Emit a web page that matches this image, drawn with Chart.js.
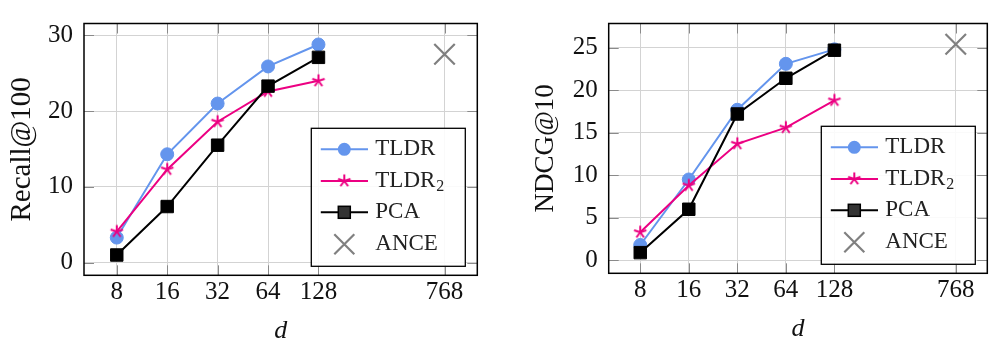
<!DOCTYPE html>
<html>
<head>
<meta charset="utf-8">
<script src="https://cdn.jsdelivr.net/npm/chart.js@4.4.0/dist/chart.umd.min.js"></script>
<style>
  html, body { margin: 0; padding: 0; background: #fff; }
  #wrap { position: relative; width: 1004px; height: 345px; }
  #left { position: absolute; left: 0; top: 0; }
  #right { position: absolute; left: 500px; top: 0; }
</style>
</head>
<body>
<div id="wrap">
  <canvas id="left" width="500" height="345"></canvas>
  <canvas id="right" width="504" height="345"></canvas>
</div>
<script>
// dimensions (x axis), placed on a log2 scale; ANCE sits apart at the right
const dims = ['8', '16', '32', '64', '128'];
const dimX = [3, 4, 5, 6, 7];
const anceDim = '768';
const anceX = 9.5;

// Recall@100
const recallTLDR = [3.3, 14.3, 21.0, 25.9, 28.8];
const recallTLDR2 = [4.1, 12.3, 18.6, 22.6, 24.0];
const recallPCA = [1.0, 7.4, 15.5, 23.3, 27.1];
const recallANCE = 27.5;
const recallTicks = [0, 10, 20, 30];

// NDCG@10
const ndcgTLDR = [1.8, 9.5, 17.7, 23.1, 24.8];
const ndcgTLDR2 = [3.3, 8.8, 13.7, 15.6, 18.8];
const ndcgPCA = [0.9, 6.0, 17.2, 21.4, 24.7];
const ndcgANCE = 25.4;
const ndcgTicks = [0, 5, 10, 15, 20, 25];

const BLUE = 'rgb(100,149,237)';
const PINK = 'rgb(236,0,130)';
const GRAY = 'rgb(128,128,128)';
const FONT = '"Liberation Serif", "Times New Roman", serif';

Chart.defaults.font.family = FONT;
Chart.defaults.color = '#111';

// pgfplots-style five armed star
function makeStar(color) {
  const c = document.createElement('canvas');
  c.width = 16; c.height = 16;
  const g = c.getContext('2d');
  g.strokeStyle = color;
  g.lineWidth = 2;
  g.lineCap = 'butt';
  g.beginPath();
  for (let k = 0; k < 5; k++) {
    const a = -Math.PI / 2 + k * 2 * Math.PI / 5;
    g.moveTo(8, 8);
    g.lineTo(8 + 6.5 * Math.cos(a), 8 + 6.5 * Math.sin(a));
  }
  g.stroke();
  return c;
}
const starImg = makeStar(PINK);

const pts = ys => ys.map((v, i) => ({ x: dimX[i], y: v }));

// frame around the plot plus inward tick marks
const framePlugin = {
  id: 'frame',
  beforeDatasetsDraw(chart) {
    const { ctx, chartArea: a, scales: { x, y } } = chart;
    const T = 10;
    ctx.save();
    ctx.strokeStyle = '#8a8a8a';
    ctx.lineWidth = 1;
    ctx.beginPath();
    x.ticks.forEach(t => {
      const px = Math.round(x.getPixelForValue(t.value)) + 0.5;
      ctx.moveTo(px, a.bottom); ctx.lineTo(px, a.bottom - T);
      ctx.moveTo(px, a.top); ctx.lineTo(px, a.top + T);
    });
    y.ticks.forEach(t => {
      const py = Math.round(y.getPixelForValue(t.value)) + 0.5;
      ctx.moveTo(a.left, py); ctx.lineTo(a.left + T, py);
      ctx.moveTo(a.right, py); ctx.lineTo(a.right - T, py);
    });
    ctx.stroke();
    ctx.strokeStyle = '#000';
    ctx.lineWidth = 1.5;
    ctx.strokeRect(a.left, a.top, a.width, a.height);
    ctx.restore();
  }
};

// legend box in the lower right corner of the plot
const legendPlugin = {
  id: 'cornerLegend',
  afterDatasetsDraw(chart) {
    const { ctx, chartArea: a } = chart;
    const w = 154, h = 138;
    const bx = a.right - 12 - w, by = a.bottom - 9 - h;
    ctx.save();
    ctx.fillStyle = 'rgba(255,255,255,0.88)';
    ctx.fillRect(bx, by, w, h);
    ctx.strokeStyle = '#000';
    ctx.lineWidth = 1.3;
    ctx.strokeRect(bx, by, w, h);

    const rows = [21, 52.6, 84, 116];
    const lx0 = bx + 9.5, lx1 = bx + 56.7, mx = bx + 33, tx = bx + 64;
    ctx.lineWidth = 2;
    // TLDR
    ctx.strokeStyle = BLUE;
    ctx.beginPath(); ctx.moveTo(lx0, by + rows[0]); ctx.lineTo(lx1, by + rows[0]); ctx.stroke();
    ctx.fillStyle = BLUE;
    ctx.beginPath(); ctx.arc(mx, by + rows[0], 6.5, 0, Math.PI * 2); ctx.fill();
    // TLDR2
    ctx.strokeStyle = PINK;
    ctx.beginPath(); ctx.moveTo(lx0, by + rows[1]); ctx.lineTo(lx1, by + rows[1]); ctx.stroke();
    ctx.drawImage(starImg, mx - 8, by + rows[1] - 8);
    // PCA
    ctx.strokeStyle = '#000';
    ctx.beginPath(); ctx.moveTo(lx0, by + rows[2]); ctx.lineTo(lx1, by + rows[2]); ctx.stroke();
    ctx.fillStyle = '#333';
    ctx.fillRect(mx - 6, by + rows[2] - 6, 12, 12);
    ctx.lineWidth = 1.5;
    ctx.strokeRect(mx - 6, by + rows[2] - 6, 12, 12);
    // ANCE
    ctx.strokeStyle = GRAY;
    ctx.lineWidth = 2.2;
    ctx.beginPath();
    ctx.moveTo(mx - 10, by + rows[3] - 10); ctx.lineTo(mx + 10, by + rows[3] + 10);
    ctx.moveTo(mx + 10, by + rows[3] - 10); ctx.lineTo(mx - 10, by + rows[3] + 10);
    ctx.stroke();

    ctx.fillStyle = '#222';
    ctx.textBaseline = 'middle';
    ctx.textAlign = 'left';
    ctx.font = '23px ' + FONT;
    ctx.fillText('TLDR', tx, by + rows[0]);
    ctx.fillText('TLDR', tx, by + rows[1]);
    const sw = ctx.measureText('TLDR').width;
    ctx.fillText('PCA', tx, by + rows[2]);
    ctx.fillText('ANCE', tx, by + rows[3]);
    ctx.font = '16px ' + FONT;
    ctx.fillText('2', tx + sw + 1, by + rows[1] + 6);
    ctx.restore();
  }
};

function makeChart(id, opt) {
  const tickVals = [...dimX, anceX];
  const tickText = [...dims, anceDim];
  return new Chart(document.getElementById(id), {
    type: 'scatter',
    data: {
      datasets: [
        {
          label: 'ANCE',
          data: [{ x: anceX, y: opt.ance }],
          pointStyle: 'crossRot',
          pointRadius: 14.5,
          borderColor: GRAY,
          borderWidth: 2.2,
          showLine: false
        },
        {
          label: 'PCA',
          data: pts(opt.pca),
          showLine: true,
          borderColor: '#000',
          backgroundColor: '#000',
          borderWidth: 2,
          pointStyle: 'rect',
          pointRadius: 8.8,
          pointBorderWidth: 1
        },
        {
          label: 'TLDR2',
          data: pts(opt.tldr2),
          showLine: true,
          borderColor: PINK,
          backgroundColor: PINK,
          borderWidth: 2,
          pointStyle: starImg
        },
        {
          label: 'TLDR',
          data: pts(opt.tldr),
          showLine: true,
          borderColor: BLUE,
          backgroundColor: BLUE,
          borderWidth: 2,
          pointStyle: 'circle',
          pointRadius: 6.5,
          pointBorderWidth: 1
        }
      ]
    },
    options: {
      responsive: false,
      animation: false,
      events: [],
      layout: { padding: { left: 0, top: opt.top, right: opt.right, bottom: 0 } },
      plugins: { legend: { display: false }, tooltip: { enabled: false } },
      scales: {
        x: {
          type: 'linear',
          min: 2.35,
          max: 10.15,
          afterBuildTicks: s => { s.ticks = tickVals.map(v => ({ value: v })); },
          afterFit: s => { s.height = opt.xh; },
          ticks: {
            callback: (v) => tickText[tickVals.indexOf(v)],
            font: { size: 25, lineHeight: 1 },
            padding: 5,
            maxRotation: 0,
            color: '#111'
          },
          grid: { color: '#d3d3d3', lineWidth: 1, drawTicks: false },
          border: { display: false },
          title: {
            display: true,
            text: 'd',
            font: { size: 26, style: 'italic', lineHeight: 1 },
            padding: { top: 0, bottom: opt.dpad },
            color: '#111'
          }
        },
        y: {
          type: 'linear',
          min: opt.ymin,
          max: opt.ymax,
          afterBuildTicks: s => { s.ticks = opt.yticks.map(v => ({ value: v })); },
          afterFit: s => { s.width = opt.yw; },
          ticks: {
            font: { size: 25, lineHeight: 1 },
            padding: 11,
            color: '#111'
          },
          grid: { color: '#d3d3d3', lineWidth: 1, drawTicks: false },
          border: { display: false },
          title: {
            display: true,
            text: opt.ytitle,
            font: { size: opt.tsize, lineHeight: 1 },
            padding: { top: opt.tpad, bottom: 0 },
            color: '#111'
          }
        }
      }
    },
    plugins: [framePlugin, legendPlugin]
  });
}

makeChart('left', {
  tldr: recallTLDR, tldr2: recallTLDR2, pca: recallPCA, ance: recallANCE,
  yticks: recallTicks, ymin: -1.68, ymax: 31.57,
  ytitle: 'Recall@100', tsize: 29, tpad: 8,
  top: 5.7, right: 22.7, yw: 84, xh: 69.7, dpad: 1
});

makeChart('right', {
  tldr: ndcgTLDR, tldr2: ndcgTLDR2, pca: ndcgPCA, ance: ndcgANCE,
  yticks: ndcgTicks, ymin: -1.53, ymax: 27.84,
  ytitle: 'NDCG@10', tsize: 27, tpad: 32,
  top: 4, right: 2.3, yw: 108.7, xh: 71.7, dpad: 3
});
</script>
</body>
</html>
